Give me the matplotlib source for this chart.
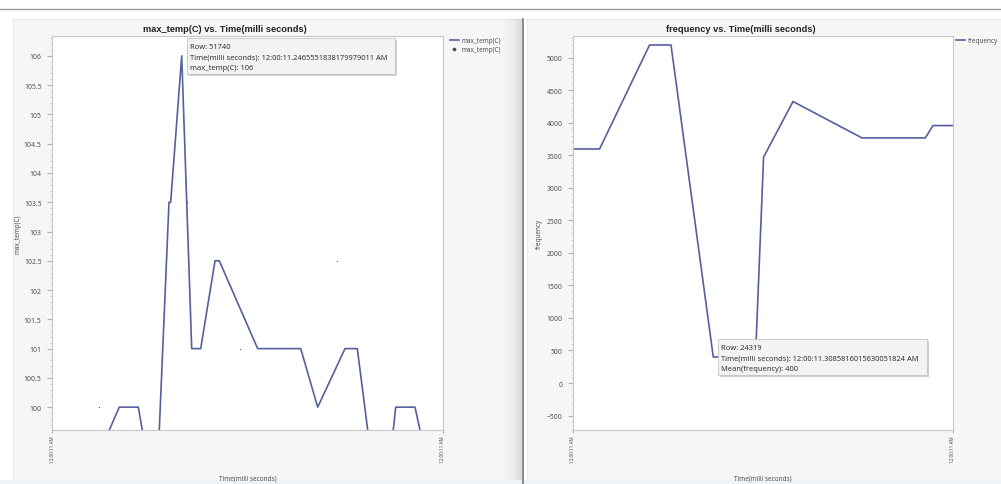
"""Two JMP-style line charts: max_temp(C) and frequency vs. time."""
import matplotlib
matplotlib.use('Agg')
import matplotlib.pyplot as plt
from matplotlib.patches import Rectangle
from matplotlib.ticker import MultipleLocator, FixedLocator

plt.rcParams['font.family'] = ['Noto Sans', 'DejaVu Sans']

# ── data (time = ms after 12:00:11 AM) ──
temp_t = [0, 103.6, 127.9, 164.1, 173.7, 203.4, 222.4, 225.6, 238.2, 246.6,
          256.1, 265.6, 282.7, 309.9, 318.0, 391.0, 472.8, 505.1, 557.0,
          580.4, 601.7, 647.5, 653.4, 690.1, 702.2, 743.3]
temp_v = [99.5, 99.5, 100, 100, 99.5, 99.5, 103.5, 103.5, 105, 106,
          103.5, 101, 101, 102.5, 102.5, 101, 101, 100, 101,
          101, 99.5, 99.5, 100, 100, 99.5, 99.5]
temp_pts_t = [89.3, 238.2, 256.1, 357.4, 542.4]
temp_pts_v = [100, 105, 103.5, 101, 102.5]

freq_t = [0, 58.5, 168.5, 215.6, 308.6, 401.5, 419.3, 484.0, 635.8, 775.1,
          792.0, 836.0]
freq_v = [3600, 3600, 5200, 5200, 400, 400, 3475, 4330, 3770, 3770,
          3960, 3960]

xtick_label = '12:00:11 AM'
tip_temp = ('Row: 51740', '12:00:11.2465551838179979011 AM')
tip_freq = ('Row: 24319', '12:00:11.3085816015630051824 AM')

W, H = 1001, 485
LINE = '#55609e'
TXT = '#505050'

fig = plt.figure(figsize=(W / 100, H / 100), dpi=100)
fig.patch.set_facecolor('white')


def box(x0, y0, x1, y1):
    # pixel box (top-left origin) -> figure fraction rect
    return [x0 / W, 1 - y1 / H, (x1 - x0) / W, (y1 - y0) / H]


# background layer in pixel coords
bg = fig.add_axes([0, 0, 1, 1], zorder=0)
bg.set_xlim(0, W)
bg.set_ylim(H, 0)
bg.axis('off')
bg.plot([0, W], [9.5, 9.5], color='#9a9a9a', lw=1)
bg.add_patch(Rectangle((13, 20), 509, 465, fc='#f6f6f6', ec='#e6e6e6', lw=0.6))
bg.add_patch(Rectangle((527, 20), 480, 465, fc='#f6f6f6', ec='#e6e6e6', lw=0.6))
for i, a in enumerate([0.015, 0.025, 0.035, 0.05, 0.07, 0.1]):
    bg.add_patch(Rectangle((504 + i * 3, 20), 3, 465, fc='black', alpha=a, lw=0))
bg.plot([522.5, 522.5], [20, H], color='#7a7a7a', lw=1.2)
bg.add_patch(Rectangle((0, 481), W, 4, fc='#eef3f8', lw=0))


def style_axes(ax, xmax, ymin, ymax, major, minor):
    ax.set_facecolor('white')
    for s in ax.spines.values():
        s.set_color('#c8c8c8')
        s.set_linewidth(0.8)
    ax.set_xlim(0, xmax)
    ax.set_ylim(ymin, ymax)
    ax.yaxis.set_major_locator(MultipleLocator(major))
    ax.yaxis.set_minor_locator(MultipleLocator(minor))
    ax.xaxis.set_major_locator(FixedLocator([0, xmax]))
    ax.set_xticklabels([xtick_label, xtick_label], rotation=90, fontsize=3.3,
                       color=TXT)
    ax.tick_params(axis='y', which='major', labelsize=4.9, length=3.5,
                   color='#b0b0b0', labelcolor=TXT, pad=4)
    ax.tick_params(axis='y', which='minor', length=1.5, color='#c8c8c8')
    ax.tick_params(axis='x', length=2.5, color='#b0b0b0', pad=1.5)


TITLE_FONT = dict(fontsize=6.7, fontweight='bold', ha='center', va='center',
                  color='#222', family=['Liberation Sans', 'DejaVu Sans'])

# ── left: max_temp(C) ──
ax1 = fig.add_axes(box(52, 37, 443, 431), zorder=1)
style_axes(ax1, temp_t[-1], 99.61, 106.34, 0.5, 0.1)
ax1.yaxis.set_major_formatter(lambda v, p: f'{v:g}')
l1, = ax1.plot(temp_t, temp_v, color=LINE, lw=1.2)
s1 = ax1.scatter(temp_pts_t, temp_pts_v, s=0.8, color='#505050', lw=0, zorder=3)
ax1.set_xlabel('Time(milli seconds)', fontsize=4.6, color=TXT, labelpad=9)
ax1.set_ylabel('max_temp(C)', fontsize=4.6, color=TXT, labelpad=2)
fig.text(225 / W, 1 - 30 / H, 'max_temp(C) vs. Time(milli seconds)', **TITLE_FONT)
leg1 = ax1.legend([l1, s1], ['max_temp(C)', 'max_temp(C)'], loc='upper left',
                  bbox_to_anchor=(450 / W, 1 - 38 / H),
                  bbox_transform=fig.transFigure, frameon=False, fontsize=4.6,
                  handlelength=1.4, handletextpad=0.4, labelspacing=0.3,
                  borderaxespad=0, borderpad=0, labelcolor=TXT, markerscale=3)

# ── right: frequency ──
ax2 = fig.add_axes(box(573, 37, 953, 431), zorder=1)
style_axes(ax2, freq_t[-1], -723, 5338, 500, 100)
l2, = ax2.plot(freq_t, freq_v, color=LINE, lw=1.2)
ax2.set_xlabel('Time(milli seconds)', fontsize=4.6, color=TXT, labelpad=9)
ax2.set_ylabel('frequency', fontsize=4.6, color=TXT, labelpad=3)
fig.text(741 / W, 1 - 30 / H, 'frequency vs. Time(milli seconds)', **TITLE_FONT)
ax2.legend([l2], ['frequency'], loc='upper left',
           bbox_to_anchor=(956 / W, 1 - 38 / H), bbox_transform=fig.transFigure,
           frameon=False, fontsize=4.6, handlelength=1.4, handletextpad=0.4,
           borderaxespad=0, borderpad=0, labelcolor=TXT)

# ── hover tooltips (pixel coords) ──
top = fig.add_axes([0, 0, 1, 1], zorder=5)
top.set_xlim(0, W)
top.set_ylim(H, 0)
top.axis('off')
top.patch.set_alpha(0)


def tooltip(x0, y0, x1, y1, lines):
    top.add_patch(Rectangle((x0 + 2, y0 + 2), x1 - x0, y1 - y0, fc='#999',
                            alpha=0.45, lw=0))
    top.add_patch(Rectangle((x0, y0), x1 - x0, y1 - y0, fc='#f3f3f3',
                            ec='#c4c4c4', lw=0.6))
    step = (y1 - y0) / 3.3
    for i, s in enumerate(lines):
        top.text(x0 + 3, y0 + step * (i + 0.75), s, fontsize=5.4, color='#333',
                 va='center', ha='left')


peak = max(temp_v)
tooltip(187, 39, 395, 75, [tip_temp[0],
                           'Time(milli seconds): ' + tip_temp[1],
                           f'max_temp(C): {peak:g}'])
low = min(freq_v)
tooltip(718, 340, 927, 376, [tip_freq[0],
                             'Time(milli seconds): ' + tip_freq[1],
                             f'Mean(frequency): {low:g}'])

fig.savefig('out.png', dpi=100)
